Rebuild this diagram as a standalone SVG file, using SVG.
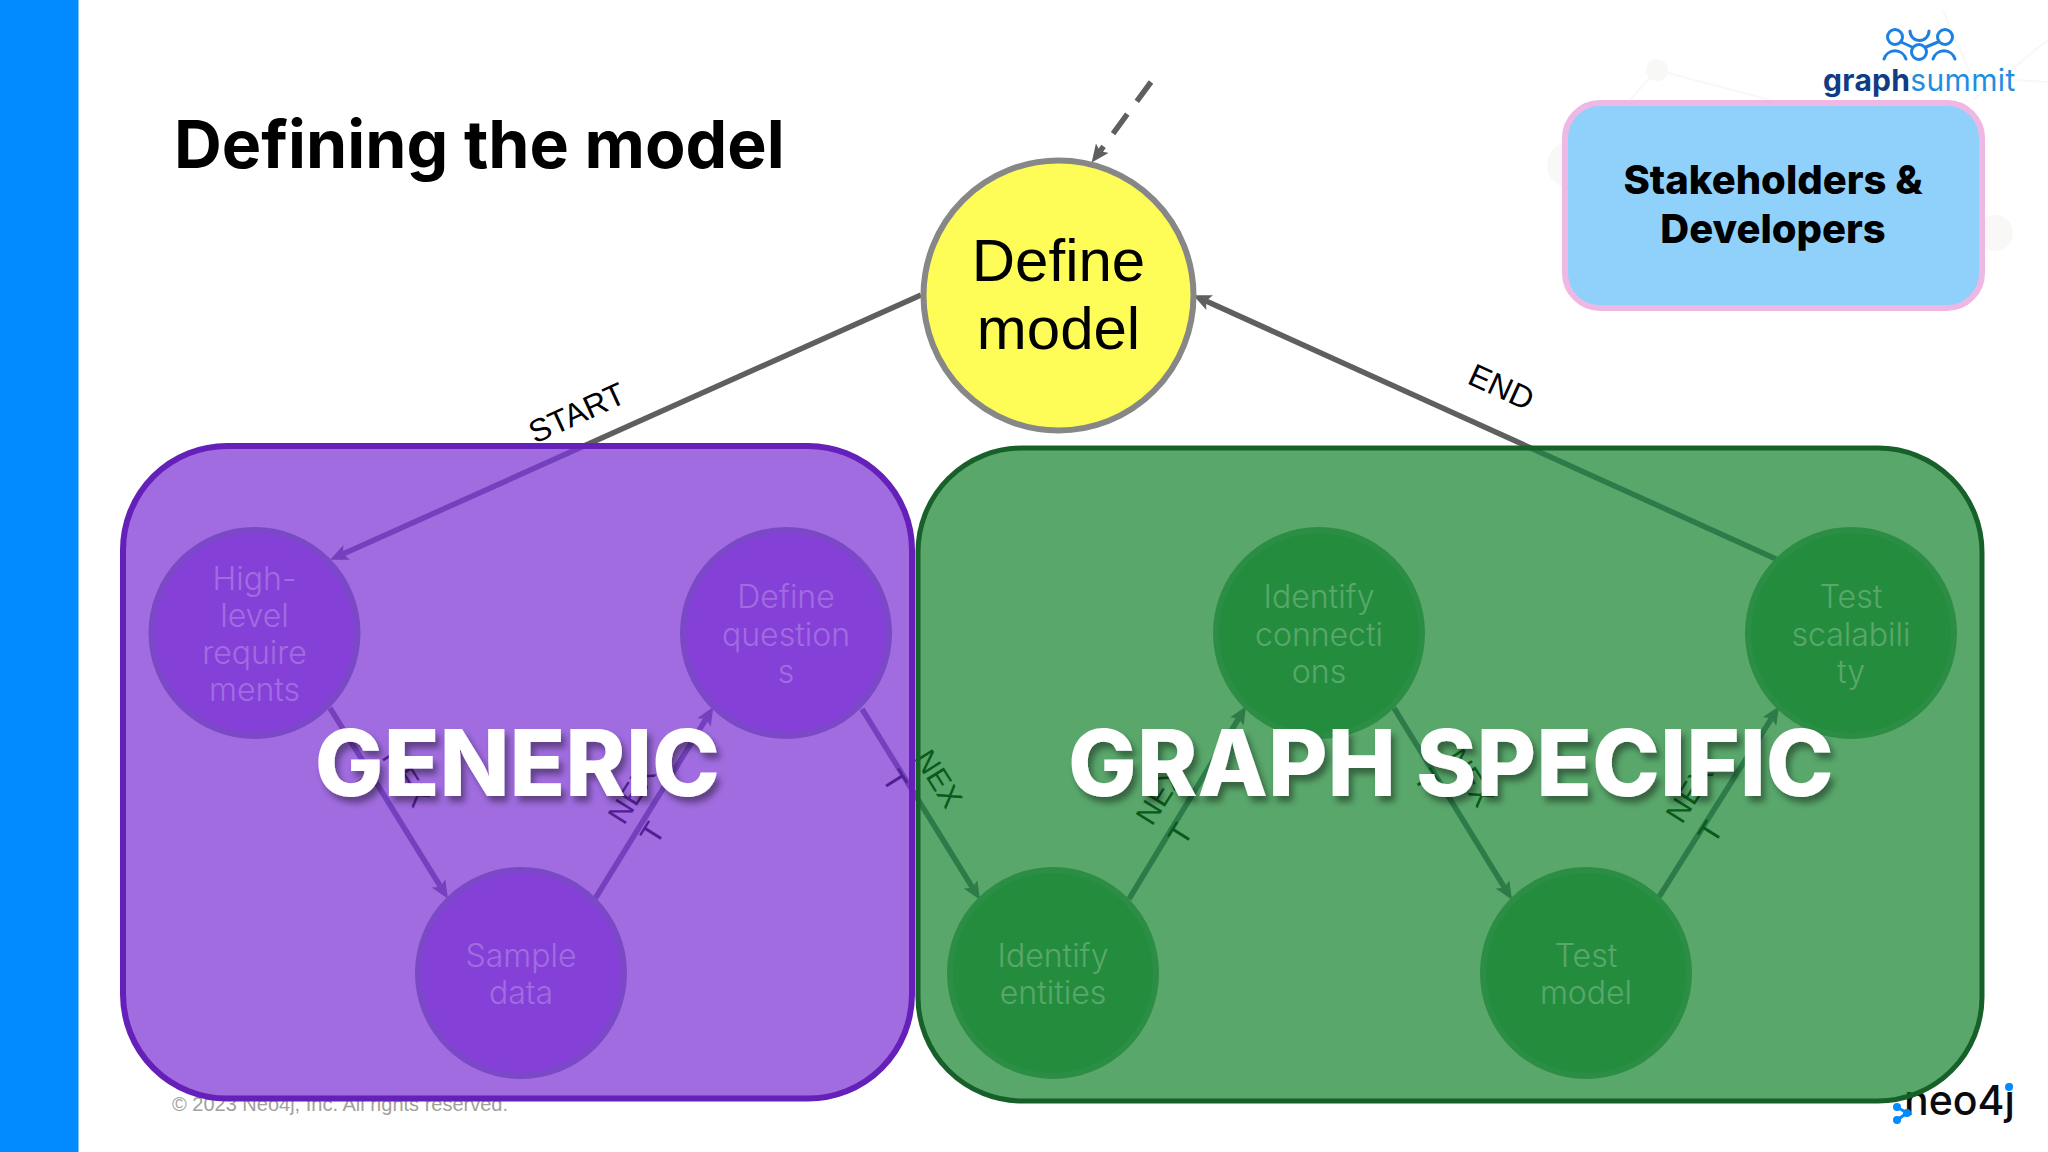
<svg xmlns="http://www.w3.org/2000/svg" width="2048" height="1152" viewBox="0 0 2048 1152">
<style>
.c{fill:none;stroke-width:5.5}
.i{stroke:#80809c;marker-end:url(#mi)}
.o{stroke:#5f5f5f;marker-end:url(#mo)}
.l{font:32px "Liberation Sans",Arial,sans-serif;fill:#000}
.n{font:30px "Liberation Sans",Arial,sans-serif;fill:#222}
.p circle{fill:#b180e7;stroke:#9597ba;stroke-width:6}
.g circle{fill:#67b17d;stroke:#7db890;stroke-width:6}
.t{font:300 32px Inter,"Liberation Sans",sans-serif;fill:#fff;text-anchor:middle}
.big{font:800 91.5px Inter,"Liberation Sans",sans-serif;fill:#fff;text-anchor:middle;filter:url(#s)}
.bg{fill:#f8f8f7;stroke:#f8f8f7;stroke-width:2}
.ic{fill:none;stroke:#1c80e2;stroke-width:3;stroke-linecap:round}
</style>
<defs>
<marker id="mi" markerUnits="userSpaceOnUse" markerWidth="18" markerHeight="16" refX="4" refY="8" orient="auto" viewBox="0 0 18 16"><path d="M0,0 L18,8 L0,16 L4,8z" fill="#80809c"/></marker>
<marker id="mo" markerUnits="userSpaceOnUse" markerWidth="18" markerHeight="16" refX="4" refY="8" orient="auto" viewBox="0 0 18 16"><path d="M0,0 L18,8 L0,16 L4,8z" fill="#5f5f5f"/></marker>
<linearGradient id="gs" gradientUnits="userSpaceOnUse" x1="921" y1="295" x2="343" y2="554"><stop offset=".583" stop-color="#5f5f5f"/><stop offset=".583" stop-color="#80809c"/></linearGradient>
<linearGradient id="ge" gradientUnits="userSpaceOnUse" x1="1776" y1="559" x2="1206" y2="301"><stop offset=".43" stop-color="#80809c"/><stop offset=".43" stop-color="#5f5f5f"/></linearGradient>
<filter id="s" x="-10%" y="-20%" width="120%" height="150%"><feDropShadow dx="4" dy="6" stdDeviation="3" flood-color="#000" flood-opacity=".4"/></filter>
</defs>
<rect width="2048" height="1152" fill="#fff"/>
<g id="backdrop">
<line class="bg" x1="1657" y1="70" x2="1770" y2="100"/><line class="bg" x1="1657" y1="70" x2="1630" y2="100"/>
<line class="bg" x1="1943" y1="10" x2="1973" y2="80"/><line class="bg" x1="1973" y1="100" x2="2048" y2="40"/><line class="bg" x1="2013" y1="80" x2="2048" y2="82"/>
<circle class="bg" cx="1657" cy="70" r="10"/><circle class="bg" cx="1570" cy="165" r="22"/><circle class="bg" cx="1995" cy="233" r="17"/>
</g>
<rect id="bar" width="78.5" height="1152" fill="#018bff"/>
<text id="title" x="174" y="168" font-family="Inter,'Liberation Sans',sans-serif" font-weight="700" font-size="66.2" fill="#000">Defining the model</text>
<text id="copyright" x="172" y="1111" font-family="'Liberation Sans',Arial,sans-serif" font-size="20" fill="#a09f9c">© 2023 Neo4j, Inc. All rights reserved.</text>
<g id="logo-graphsummit">
<circle class="ic" cx="1895" cy="37" r="7.5"/><circle class="ic" cx="1945" cy="37" r="7.5"/><circle class="ic" cx="1919" cy="52" r="7.5"/>
<path class="ic" d="M1910,31 A9.5,9.5 0 0 0 1929,31 M1884,59 A11.5,11.5 0 0 1 1906,59 M1933,59 A11.5,11.5 0 0 1 1955,59 M1901,42 L1912,47 M1926,47 L1938,42"/>
<text x="1823" y="91" font-family="Inter,'Noto Sans',sans-serif" font-size="30"><tspan font-weight="700" fill="#0f3c84" textLength="87">graph</tspan><tspan fill="#1f8de0" textLength="105">summit</tspan></text>
</g>
<g id="logo-neo4j">
<text x="1904" y="1115" font-family="Inter,'Liberation Sans',sans-serif" font-weight="500" font-size="41" fill="#0a0a0f">neo4j</text>
<path d="M1897,1107 L1907,1113 L1897,1120" fill="none" stroke="#018bff" stroke-width="3"/>
<circle cx="1897" cy="1107" r="4" fill="#018bff"/><circle cx="1897" cy="1120" r="4" fill="#018bff"/><circle cx="1907" cy="1113" r="4" fill="#018bff"/><circle cx="2009" cy="1087" r="4" fill="#018bff"/>
</g>
<g id="connectors">
<line class="c" stroke="url(#gs)" marker-end="url(#mi)" x1="921" y1="295" x2="343" y2="554"/>
<line class="c" stroke="url(#ge)" marker-end="url(#mo)" x1="1776" y1="559" x2="1206" y2="301"/>
<line class="c o" x1="1151" y1="82" x2="1100" y2="151.3" stroke-dasharray="24 16"/>
<line class="c i" x1="330" y1="708" x2="440.6" y2="886.8"/>
<line class="c i" x1="595.5" y1="898" x2="706" y2="719"/>
<line class="c i" x1="862" y1="709" x2="972.6" y2="887.8"/>
<line class="c i" x1="1129" y1="899" x2="1238.8" y2="718.2"/>
<line class="c i" x1="1394" y1="708" x2="1504.6" y2="887.8"/>
<line class="c i" x1="1659" y1="897" x2="1771.6" y2="718.2"/>
<text class="l" transform="translate(535,444) rotate(-24.5)">START</text>
<text class="l" transform="translate(1466,383) rotate(24.5)">END</text>
<text class="n" transform="translate(381,757) rotate(58)">NEX<tspan x="0" dy="38">T</tspan></text>
<text class="n" transform="translate(624,826) rotate(-58)">NEX<tspan x="0" dy="38">T</tspan></text>
<text class="n" transform="translate(913.5,758) rotate(58)">NEX<tspan x="0" dy="38">T</tspan></text>
<text class="n" transform="translate(1152,827) rotate(-58)">NEX<tspan x="0" dy="38">T</tspan></text>
<text class="n" transform="translate(1445,757) rotate(58)">NEX<tspan x="0" dy="38">T</tspan></text>
<text class="n" transform="translate(1682,825) rotate(-58)">NEX<tspan x="0" dy="38">T</tspan></text>
</g>
<g id="define-model"><circle cx="1058.5" cy="295.5" r="135" fill="#fefc57" stroke="#878787" stroke-width="6"/>
<text x="1058.5" y="281" font-family="'Liberation Sans',Arial,sans-serif" font-size="60" text-anchor="middle">Define</text><text x="1058.5" y="349" font-family="'Liberation Sans',Arial,sans-serif" font-size="60" text-anchor="middle">model</text></g>
<g id="high-level" class="p"><circle cx="254.5" cy="633" r="103"/><text class="t" x="254.5" y="590">High-</text><text class="t" x="254.5" y="627">level</text><text class="t" x="254.5" y="664">require</text><text class="t" x="254.5" y="701">ments</text></g>
<g id="define-questions" class="p"><circle cx="786" cy="633" r="103"/><text class="t" x="786" y="608">Define</text><text class="t" x="786" y="646">question</text><text class="t" x="786" y="683">s</text></g>
<g id="sample-data" class="p"><circle cx="521" cy="973" r="103"/><text class="t" x="521" y="967">Sample</text><text class="t" x="521" y="1004">data</text></g>
<g id="identify-connections" class="g"><circle cx="1319" cy="633" r="103"/><text class="t" x="1319" y="608">Identify</text><text class="t" x="1319" y="646">connecti</text><text class="t" x="1319" y="683">ons</text></g>
<g id="test-scalability" class="g"><circle cx="1851" cy="633" r="103"/><text class="t" x="1851" y="608">Test</text><text class="t" x="1851" y="646">scalabili</text><text class="t" x="1851" y="683">ty</text></g>
<g id="identify-entities" class="g"><circle cx="1053" cy="973" r="103"/><text class="t" x="1053" y="967">Identify</text><text class="t" x="1053" y="1004">entities</text></g>
<g id="test-model" class="g"><circle cx="1586" cy="973" r="103"/><text class="t" x="1586" y="967">Test</text><text class="t" x="1586" y="1004">model</text></g>
<g id="generic"><rect x="123" y="446" width="789" height="652.5" rx="104" fill="#6d1dcf" fill-opacity=".65" stroke="#6420b8" stroke-width="6"/></g>
<g id="graph-specific"><rect x="918" y="448" width="1064" height="653" rx="104" fill="#00781c" fill-opacity=".65" stroke="#17602a" stroke-width="5"/></g>
<text class="big" x="517.5" y="796">GENERIC</text>
<text class="big" x="1451" y="796">GRAPH SPECIFIC</text>
<g id="stakeholders"><rect x="1565" y="103" width="417" height="205" rx="35" fill="#90d1fb" stroke="#efb8e4" stroke-width="6"/>
<text x="1773" y="194" font-family="Inter,'Liberation Sans',sans-serif" font-weight="800" font-size="40" text-anchor="middle">Stakeholders &amp;</text>
<text x="1773" y="243" font-family="Inter,'Liberation Sans',sans-serif" font-weight="800" font-size="40" text-anchor="middle">Developers</text></g>
</svg>
